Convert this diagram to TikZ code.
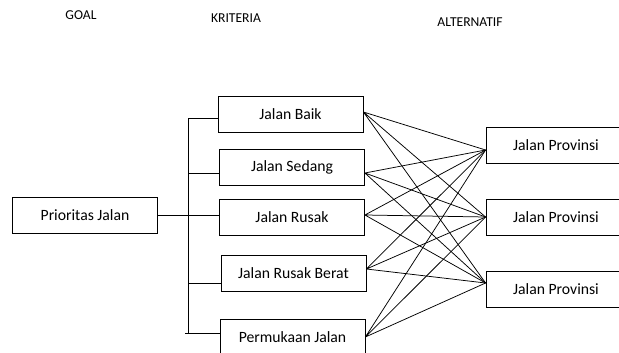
\documentclass[tikz,border=0pt]{standalone}
\usepackage{fontspec}
\setmainfont{Carlito}
\usetikzlibrary{positioning}

\begin{document}
\begin{tikzpicture}[x=1pt, y=-1pt,
  kotak/.style={draw, line width=0.8pt, minimum width=145pt, minimum height=36pt, inner sep=0pt, align=center, font=\fontsize{15.7}{18}\selectfont},
  judul/.style={font=\fontsize{13.6}{16}\selectfont, inner sep=0pt},
  garis/.style={line width=0.75pt}]
\useasboundingbox (0,0) rectangle (619,353);
\clip (0,0) rectangle (619,353);
% judul kolom
\node[judul] (hgoal) at (81,15) {GOAL};
\node[judul] (hkrit) at (236,18) {KRITERIA};
\node[judul] (halt) at (470,22) {ALTERNATIF};
% goal
\node[kotak] (goal) at (85,215) {Prioritas Jalan};
% kriteria
\node[kotak] (baik) at (290.5,114) {Jalan Baik};
\node[kotak] (sedang) at (292,167) {Jalan Sedang};
\node[kotak] (rusak) at (292,217.5) {Jalan Rusak};
\node[kotak] (berat) at (293.5,273) {Jalan Rusak Berat};
\node[kotak] (permukaan) at (292.5,337) {Permukaan Jalan};
% alternatif
\node[kotak, minimum width=150pt] (prov1) at (561,145) {\hspace*{-10pt}Jalan Provinsi};
\node[kotak, minimum width=150pt] (prov2) at (561,217) {\hspace*{-10pt}Jalan Provinsi};
\node[kotak, minimum width=150pt] (prov3) at (561,289.5) {\hspace*{-10pt}Jalan Provinsi};
% bus goal - kriteria
\coordinate (busatas) at (188,118);
\coordinate (busbawah) at (188,333);
\draw[garis] (busatas) -- (busbawah);
\draw[garis] (busatas) -- (busatas -| baik.west);
\draw[garis] (goal.east) -- ([yshift=2.5pt]rusak.west);
\draw[garis] (188,173) -- ([yshift=-6pt]sedang.west);
\draw[garis] (188,283) -- ([yshift=-10pt]berat.west);
\draw[garis] ([xshift=-3pt]busbawah) -- (busbawah -| permukaan.west);
% kriteria - alternatif
\draw[garis] ([yshift=2pt]baik.east) -- ([yshift=-5pt]prov1.west)
  ([yshift=2pt]baik.east) -- (prov2.west)
  ([yshift=2pt]baik.east) -- ([yshift=6.5pt]prov3.west);
\draw[garis] ([yshift=-6pt]sedang.east) -- ([yshift=-5pt]prov1.west)
  ([yshift=-6pt]sedang.east) -- (prov2.west)
  ([yshift=-6pt]sedang.east) -- ([yshift=6.5pt]prov3.west);
\draw[garis] ([yshift=2.5pt]rusak.east) -- ([yshift=-5pt]prov1.west)
  ([yshift=2.5pt]rusak.east) -- (prov2.west)
  ([yshift=2.5pt]rusak.east) -- ([yshift=6.5pt]prov3.west);
\draw[garis] ([yshift=4pt]berat.east) -- ([yshift=-5pt]prov1.west)
  ([yshift=4pt]berat.east) -- (prov2.west)
  ([yshift=4pt]berat.east) -- ([yshift=6.5pt]prov3.west);
\draw[garis] (permukaan.east) -- ([yshift=-5pt]prov1.west)
  (permukaan.east) -- (prov2.west)
  (permukaan.east) -- ([yshift=6.5pt]prov3.west);
\end{tikzpicture}
\end{document}
